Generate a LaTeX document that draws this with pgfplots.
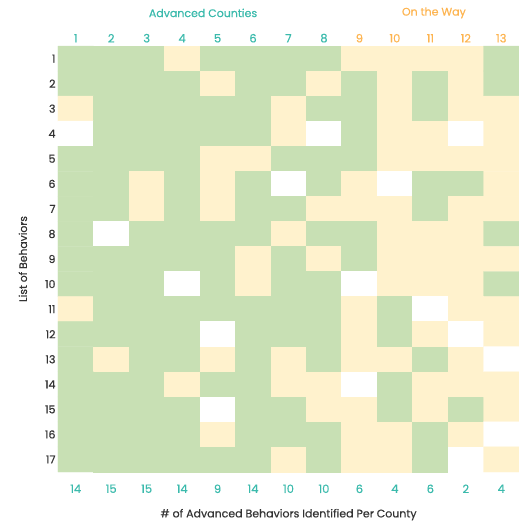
\documentclass[border=0pt]{standalone}
\usepackage{fontspec}
\setmainfont{Poppins}
\newfontfamily\medfont{Poppins}[FakeBold=0.5]
\usepackage{pgfplots}
\pgfplotsset{compat=1.18}
\definecolor{tealc}{RGB}{59,186,172}
\definecolor{orangec}{RGB}{253,180,80}
\definecolor{labc}{RGB}{51,51,51}
\begin{document}
\begin{tikzpicture}
\begin{axis}[name=main, scale only axis, width=461pt, height=426pt,
  xmin=0.5, xmax=13.5, ymin=0.5, ymax=17.5, y dir=reverse, enlargelimits=false,
  axis line style={draw=none}, major tick length=0pt,
  xtick={1,2,3,4,5,6,7,8,9,10,11,12,13},
  xticklabels={14,15,15,14,9,14,10,10,6,4,6,2,4},
  xticklabel style={text=tealc, font=\medfont\fontsize{11.5}{13}\selectfont, yshift=-9pt},
  ytick={1,2,3,4,5,6,7,8,9,10,11,12,13,14,15,16,17},
  yticklabels={1,2,3,4,5,6,7,8,9,10,11,12,13,14,15,16,17},
  yticklabel style={text=labc, font=\medfont\fontsize{11}{13}\selectfont, xshift=1pt},
  colormap={cells}{rgb255=(255,255,255) rgb255=(255,242,205) rgb255=(200,224,180)},
  colormap access=direct, clip=false]
\addplot[matrix plot*, mesh/cols=13, mesh/rows=17, point meta=explicit] coordinates {
(1,1)[2] (2,1)[2] (3,1)[2] (4,1)[1] (5,1)[2] (6,1)[2] (7,1)[2] (8,1)[2] (9,1)[1] (10,1)[1] (11,1)[1] (12,1)[1] (13,1)[2]
(1,2)[2] (2,2)[2] (3,2)[2] (4,2)[2] (5,2)[1] (6,2)[2] (7,2)[2] (8,2)[1] (9,2)[2] (10,2)[1] (11,2)[2] (12,2)[1] (13,2)[2]
(1,3)[1] (2,3)[2] (3,3)[2] (4,3)[2] (5,3)[2] (6,3)[2] (7,3)[1] (8,3)[2] (9,3)[2] (10,3)[1] (11,3)[2] (12,3)[1] (13,3)[1]
(1,4)[0] (2,4)[2] (3,4)[2] (4,4)[2] (5,4)[2] (6,4)[2] (7,4)[1] (8,4)[0] (9,4)[2] (10,4)[1] (11,4)[1] (12,4)[0] (13,4)[1]
(1,5)[2] (2,5)[2] (3,5)[2] (4,5)[2] (5,5)[1] (6,5)[1] (7,5)[2] (8,5)[2] (9,5)[2] (10,5)[1] (11,5)[1] (12,5)[1] (13,5)[1]
(1,6)[2] (2,6)[2] (3,6)[1] (4,6)[2] (5,6)[1] (6,6)[2] (7,6)[0] (8,6)[2] (9,6)[1] (10,6)[0] (11,6)[2] (12,6)[2] (13,6)[1]
(1,7)[2] (2,7)[2] (3,7)[1] (4,7)[2] (5,7)[1] (6,7)[2] (7,7)[2] (8,7)[1] (9,7)[1] (10,7)[1] (11,7)[2] (12,7)[1] (13,7)[1]
(1,8)[2] (2,8)[0] (3,8)[2] (4,8)[2] (5,8)[2] (6,8)[2] (7,8)[1] (8,8)[2] (9,8)[2] (10,8)[1] (11,8)[1] (12,8)[1] (13,8)[2]
(1,9)[2] (2,9)[2] (3,9)[2] (4,9)[2] (5,9)[2] (6,9)[1] (7,9)[2] (8,9)[1] (9,9)[2] (10,9)[1] (11,9)[1] (12,9)[1] (13,9)[1]
(1,10)[2] (2,10)[2] (3,10)[2] (4,10)[0] (5,10)[2] (6,10)[1] (7,10)[2] (8,10)[2] (9,10)[0] (10,10)[1] (11,10)[1] (12,10)[1] (13,10)[2]
(1,11)[1] (2,11)[2] (3,11)[2] (4,11)[2] (5,11)[2] (6,11)[2] (7,11)[2] (8,11)[2] (9,11)[1] (10,11)[2] (11,11)[0] (12,11)[1] (13,11)[1]
(1,12)[2] (2,12)[2] (3,12)[2] (4,12)[2] (5,12)[0] (6,12)[2] (7,12)[2] (8,12)[2] (9,12)[1] (10,12)[2] (11,12)[1] (12,12)[0] (13,12)[1]
(1,13)[2] (2,13)[1] (3,13)[2] (4,13)[2] (5,13)[1] (6,13)[2] (7,13)[1] (8,13)[2] (9,13)[1] (10,13)[1] (11,13)[2] (12,13)[1] (13,13)[0]
(1,14)[2] (2,14)[2] (3,14)[2] (4,14)[1] (5,14)[2] (6,14)[2] (7,14)[1] (8,14)[1] (9,14)[0] (10,14)[2] (11,14)[1] (12,14)[1] (13,14)[1]
(1,15)[2] (2,15)[2] (3,15)[2] (4,15)[2] (5,15)[0] (6,15)[2] (7,15)[2] (8,15)[1] (9,15)[1] (10,15)[2] (11,15)[1] (12,15)[2] (13,15)[1]
(1,16)[2] (2,16)[2] (3,16)[2] (4,16)[2] (5,16)[1] (6,16)[2] (7,16)[2] (8,16)[2] (9,16)[1] (10,16)[1] (11,16)[2] (12,16)[1] (13,16)[0]
(1,17)[2] (2,17)[2] (3,17)[2] (4,17)[2] (5,17)[2] (6,17)[2] (7,17)[1] (8,17)[2] (9,17)[1] (10,17)[1] (11,17)[2] (12,17)[0] (13,17)[1]
};
\node[text=tealc, font=\medfont\fontsize{11}{13}\selectfont] at (axis cs:4.59,-0.82) {Advanced Counties};
\node[text=orangec, font=\medfont\fontsize{11}{13}\selectfont] at (axis cs:11.1,-0.82) {On the Way};
\node[text=labc, font=\medfont\fontsize{11}{13}\selectfont] at (axis cs:7.0,19.2) {\# of Advanced Behaviors Identified Per County};
\node[text=labc, font=\medfont\fontsize{10.8}{13}\selectfont, rotate=90] at (axis cs:-0.49,9.0) {List of Behaviors};
\end{axis}
\begin{axis}[scale only axis, width=461pt, height=426pt,
  xmin=0.5, xmax=13.5, ymin=0.5, ymax=17.5, y dir=reverse, enlargelimits=false,
  axis line style={draw=none}, major tick length=0pt,
  xticklabel pos=upper, ytick=\empty,
  xtick={1,2,3,4,5,6,7,8,9,10,11,12,13},
  xticklabels={\textcolor{tealc}{1},\textcolor{tealc}{2},\textcolor{tealc}{3},\textcolor{tealc}{4},\textcolor{tealc}{5},\textcolor{tealc}{6},\textcolor{tealc}{7},\textcolor{tealc}{8},\textcolor{orangec}{9},\textcolor{orangec}{10},\textcolor{orangec}{11},\textcolor{orangec}{12},\textcolor{orangec}{13}},
  xticklabel style={font=\medfont\fontsize{11.5}{13}\selectfont}]
\end{axis}
\pgfresetboundingbox
\path[use as bounding box] ([shift={(-58pt,-53pt)}]main.south west) rectangle ([shift={(0pt,46pt)}]main.north east);
\end{tikzpicture}
\end{document}
